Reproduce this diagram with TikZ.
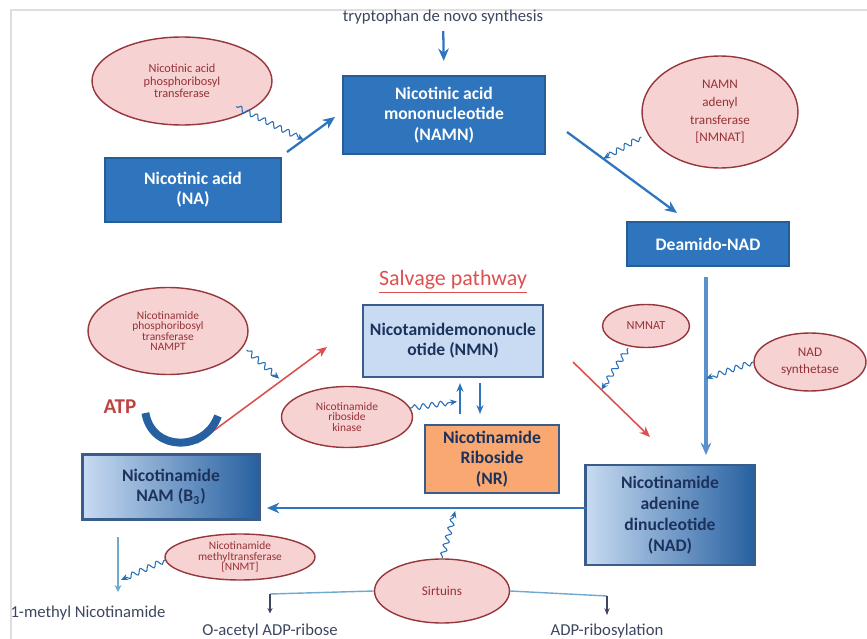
\documentclass[tikz,border=0pt]{standalone}
\usepackage{fontspec}
\setmainfont{Carlito}
\usetikzlibrary{shapes.geometric, arrows.meta, decorations.pathmorphing, calc}
\definecolor{pathblue}{RGB}{46,117,190}
\definecolor{pathedge}{RGB}{37,94,150}
\definecolor{palebox}{RGB}{200,219,242}
\definecolor{deepbox}{RGB}{38,96,160}
\definecolor{navyedge}{RGB}{56,93,138}
\definecolor{navytext}{RGB}{28,50,92}
\definecolor{ribose}{RGB}{248,168,112}
\definecolor{enzfill}{RGB}{247,210,210}
\definecolor{enzedge}{RGB}{150,55,60}
\definecolor{enztext}{RGB}{150,50,55}
\definecolor{salvred}{RGB}{222,80,80}
\definecolor{squigblue}{RGB}{40,110,180}
\definecolor{thinblue}{RGB}{110,170,205}
\definecolor{labelgray}{RGB}{60,70,95}
\tikzset{
	bluebox/.style={draw=pathedge, fill=pathblue, text=white, align=center,
		font=\bfseries\fontsize{10}{11.5}\selectfont, inner sep=0pt}
}
\tikzset{
	palebox/.style={draw=navyedge, line width=1.2pt, fill=palebox, text=navytext, align=center,
		font=\bfseries\fontsize{10}{11.5}\selectfont, inner sep=0pt}
}
\tikzset{
	shadebox/.style={palebox, left color=palebox, right color=deepbox}
}
\tikzset{
	enzyme/.style={ellipse, draw=enzedge, line width=0.8pt, fill=enzfill, text=enztext, align=center,
		font=\fontsize{7}{7.2}\selectfont, inner sep=0pt}
}
\tikzset{
	tinyenzyme/.style={enzyme, font=\fontsize{6.5}{6}\selectfont}
}
\tikzset{
	smalllabel/.style={font=\fontsize{9.5}{11}\selectfont, text=labelgray}
}
\tikzset{
	squiggle/.style={draw=squigblue, line width=0.6pt, decorate,
		decoration={snake, amplitude=1.5pt, segment length=5pt, pre length=1pt, post length=3pt},
		-{Stealth[length=4pt, width=3.5pt]}}
}

\begin{document}
\begin{tikzpicture}[x=0.02cm, y=-0.02cm, line width=1.3pt]
      \useasboundingbox (0,0) rectangle (867,639);
      % frame
      \draw[line width=1.2pt, black!13] (11,639) -- (11,10) -- (867,10);
      % de novo branch
      \node[smalllabel] (trp) at (443,17) {tryptophan de novo synthesis};
      \node[bluebox, minimum width=4.04cm, minimum height=1.56cm] (namn) at (444,115) {Nicotinic acid\\mononucleotide\\(NAMN)};
      \node[bluebox, minimum width=3.52cm, minimum height=1.28cm] (na) at (193,190) {Nicotinic acid\\(NA)};
      \node[bluebox, minimum width=3.24cm, minimum height=0.88cm] (deamido) at (708,244) {Deamido-NAD};
      \node[enzyme, minimum width=3.6cm, minimum height=1.76cm] (naprt) at (182,81) {Nicotinic acid\\phosphoribosyl\\transferase};
      \node[enzyme, font=\fontsize{7.5}{10}\selectfont, minimum width=3.12cm, minimum height=2.24cm] (nmnat) at (720,112) {NAMN\\adenyl\\transferase\\{[NMNAT]}};
      \node[enzyme, font=\fontsize{7.5}{10}\selectfont, minimum width=2.24cm, minimum height=1.16cm] (nadsyn) at (810,362) {NAD\\synthetase};
      % salvage branch
      \node[font=\fontsize{12.5}{14}\selectfont, text=salvred] (salvage) at (453,282) {\underline{Salvage pathway}};
      \node[palebox, minimum width=3.6cm, minimum height=1.44cm] (nmn) at (453,341) {Nicotamidemononucle\\otide (NMN)};
      \node[palebox, fill=ribose, minimum width=2.68cm, minimum height=1.36cm] (nr) at (492,459) {Nicotinamide\\Riboside\\(NR)};
      \node[shadebox, minimum width=3.54cm, minimum height=1.3cm] (nam) at (171,487) {Nicotinamide\\NAM (B\textsubscript{3})};
      \node[shadebox, font=\bfseries\fontsize{10}{12}\selectfont, minimum width=3.38cm, minimum height=2.0cm] (nad) at (670,515) {Nicotinamide\\adenine\\dinucleotide\\(NAD)};
      \node[tinyenzyme, minimum width=3.2cm, minimum height=1.74cm] (nampt) at (168,331) {Nicotinamide\\phosphoribosyl\\transferase\\NAMPT};
      \node[enzyme, minimum width=1.74cm, minimum height=0.86cm] (nmnat2) at (646,326) {NMNAT};
      \node[tinyenzyme, minimum width=2.62cm, minimum height=1.22cm] (nrk) at (347,417) {Nicotinamide\\riboside\\kinase};
      \node[tinyenzyme, minimum width=3.0cm, minimum height=0.92cm] (nnmt) at (240,557) {Nicotinamide\\methyltransferase\\{[NNMT]}};
      \node[enzyme, font=\fontsize{7.5}{9}\selectfont, minimum width=2.7cm, minimum height=1.28cm] (sirt) at (442,591) {Sirtuins};
      \node[font=\bfseries\fontsize{12}{14}\selectfont, text=salvred!85!black] (atp) at (120,407) {ATP};
      % end products
      \node[smalllabel] (mnam) at (88,613) {1-methyl Nicotinamide};
      \node[smalllabel] (oadpr) at (270,631) {O-acetyl ADP-ribose};
      \node[smalllabel] (adpr) at (607,631) {ADP-ribosylation};
      % arrow ends
      \coordinate (na-out) at (287,152);
      \coordinate (namn-in) at (335,117);
      \coordinate (namn-out) at (567,132);
      \coordinate (deamido-in) at (677,213);
      \coordinate (deamido-out) at (706,277);
      \coordinate (nad-in) at (706,455);
      \coordinate (nam-out) at (197,443);
      \coordinate (nmn-in) at (327,347);
      \coordinate (nmn-out) at (573,362);
      \coordinate (nad-red) at (650,437);
      \coordinate (nad-out) at (586,508);
      \coordinate (nam-in) at (267,508);
      \coordinate (nam-down) at (118,537);
      \coordinate (mnam-in) at (118,592);
      \coordinate (sirt-l) at (270,594);
      \coordinate (sirt-r) at (607,596);
      % main blue arrows
      \draw[pathblue, -{Stealth[length=7pt, width=6pt]}] (trp) -- (namn.north) [shorten >=0.28cm];
      \draw[pathblue, -{Stealth[length=7pt, width=6pt]}] (na-out) -- (namn-in);
      \draw[pathblue, -{Stealth[length=7pt, width=6pt]}] (namn-out) -- (deamido-in);
      \draw[pathblue!80, line width=1.8pt, -{Stealth[length=7pt, width=6pt]}] (deamido-out) -- (nad-in);
      \draw[pathblue, -{Stealth[length=7pt, width=6pt]}] (nad-out) -- (nam-in);
      \draw[thinblue, line width=0.9pt, -{Stealth[length=4pt, width=4pt]}] (nam-down) -- (mnam-in);
      % NMN and NR
      \draw[pathblue, line width=1pt, -{Stealth[length=5pt, width=4pt]}] ($(nr.north)+(-32,-10)$) coordinate (nr-up) -- ($(nmn.south)+(7,5)$) coordinate (nmn-up);
      \draw[pathblue, line width=1pt, -{Stealth[length=5pt, width=4pt]}] ($(nmn.south)+(27,5)$) coordinate (nmn-dn) -- ($(nr.north)+(-12,-10)$) coordinate (nr-dn);
      % red salvage arrows
      \draw[salvred, line width=0.9pt, -{Stealth[length=6pt, width=5pt]}] (nam-out) -- (nmn-in);
      \draw[salvred, line width=0.9pt, -{Stealth[length=6pt, width=5pt]}] (nmn-out) -- (nad-red);
      % ATP
      \draw[deepbox, line width=4.5pt] (atp.east) ++(2,6) coordinate (atp-a) .. controls (152,452) and (205,452) .. (218,416) coordinate (atp-b);
      % enzyme squiggles
      \draw[squiggle] (naprt.south east) ++(-10,-6) -- ($(na-out)!0.35!(namn-in)$);
      \draw[squiggle] (nmnat.west) ++(0,25) -- ($(namn-out)!0.33!(deamido-in)$);
      \draw[squiggle] (nadsyn.west) -- ($(deamido-out)!0.57!(nad-in)$);
      \draw[squiggle] (nmnat2.south) ++(-18,0) -- ($(nmn-out)!0.37!(nad-red)$);
      \draw[squiggle] (nampt.east) ++(-2,19) -- ($(nam-out)!0.67!(nmn-in)+(-5,0)$);
      \draw[squiggle] (nrk.east) ++(-3,-9) -- ($(nr-up)!0.4!(nmn-up)+(-3,0)$);
      \draw[squiggle] (nnmt.west) ++(1,3) -- ($(nam-down)!0.78!(mnam-in)+(3,0)$);
      \draw[squiggle] (sirt.north) -- ($(nad-out)!0.41!(nam-in)+(0,3)$);
      % sirtuin products
      \draw[thinblue, line width=0.8pt] (sirt.west) -- (sirt-l);
      \draw[labelgray, line width=0.6pt, -{Stealth[length=3pt, width=3pt]}] (sirt-l) -- (oadpr.north) [shorten >=2pt];
      \draw[thinblue, line width=0.8pt] (sirt.east) -- (sirt-r);
      \draw[labelgray, line width=0.6pt, -{Stealth[length=4pt, width=3pt]}] (sirt-r) -- (adpr.north) [shorten >=1pt];
    \end{tikzpicture}
\end{document}
